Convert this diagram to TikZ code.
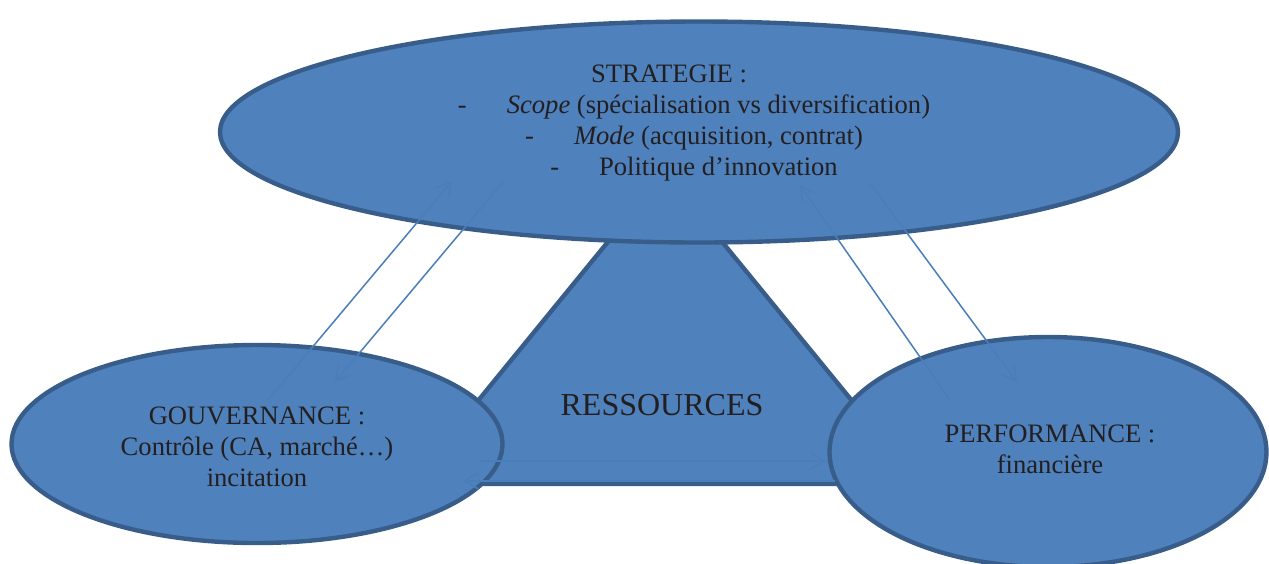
\documentclass[tikz,border=0pt]{standalone}
\usepackage{fontspec}
\setmainfont{Liberation Serif}
\usetikzlibrary{shapes.geometric,arrows.meta}
\definecolor{boxfill}{HTML}{4F81BD}
\definecolor{boxline}{HTML}{385D8A}
\definecolor{flowline}{HTML}{4A7EBB}
\definecolor{inktext}{HTML}{231F20}
\tikzset{
  bubble/.style={ellipse, draw=boxline, fill=boxfill, line width=2.2pt, inner sep=0pt},
  caption/.style={align=center, text=inktext, font=\fontsize{13.3}{15.5}\selectfont},
  flow/.style={draw=flowline, line width=0.75pt, -{Straight Barb[length=7pt,width=8pt]}}
}
\begin{document}
\begin{tikzpicture}[x=0.5pt,y=-0.5pt]
	\useasboundingbox (0,0) rectangle (1269,563);
	\clip (0,0) rectangle (1269,563);
	% triangle
	\coordinate (t0) at (665,172);
	\coordinate (t1) at (410,484);
	\coordinate (t2) at (920,484);
	\draw [fill=boxfill, draw=boxline, line width=2.2pt] (t0) -- (t1) -- (t2) -- cycle;
	% ellipses
	\node [bubble, minimum width=479pt, minimum height=110.5pt] (strat) at (699,132) {};
	\node [bubble, minimum width=245.5pt, minimum height=99pt] (gouv) at (257,444) {};
	\node [bubble, minimum width=218.5pt, minimum height=115pt] (perf) at (1048,452) {};
	% texts
	\node [caption] (strattxt) at (694,123) {STRATEGIE :\hspace*{25pt}\\
		-\hspace{20pt}\textit{Scope} (spécialisation vs diversification)\\
		-\hspace{20pt}\textit{Mode} (acquisition, contrat)\\
		-\hspace{20pt}Politique d’innovation};
	\node [caption] (gouvtxt) at (257,447) {GOUVERNANCE :\\Contrôle (CA, marché…)\\incitation};
	\node [caption] (perftxt) at (1050,449) {PERFORMANCE :\\financière};
	\node [text=inktext, font=\fontsize{16}{19}\selectfont] (res) at (662,405) {RESSOURCES};
	% arrow ends
	\coordinate (g1) at (268,400);
	\coordinate (s1) at (452,181);
	\coordinate (s2) at (503,182);
	\coordinate (g2) at (335,382);
	\coordinate (p1) at (950,400);
	\coordinate (s3) at (800,185);
	\coordinate (s4) at (870,183);
	\coordinate (p2) at (1017,382);
	\coordinate (g3) at (480,461);
	\coordinate (p3) at (826,461);
	\coordinate (p4) at (835,481);
	\coordinate (g4) at (463,481);
	% flows
	\draw [flow] (g1) -- (s1);
	\draw [flow] (s2) -- (g2);
	\draw [flow] (p1) -- (s3);
	\draw [flow] (s4) -- (p2);
	\draw [flow] (g3) -- (p3);
	\draw [flow] (p4) -- (g4);
\end{tikzpicture}
\end{document}
